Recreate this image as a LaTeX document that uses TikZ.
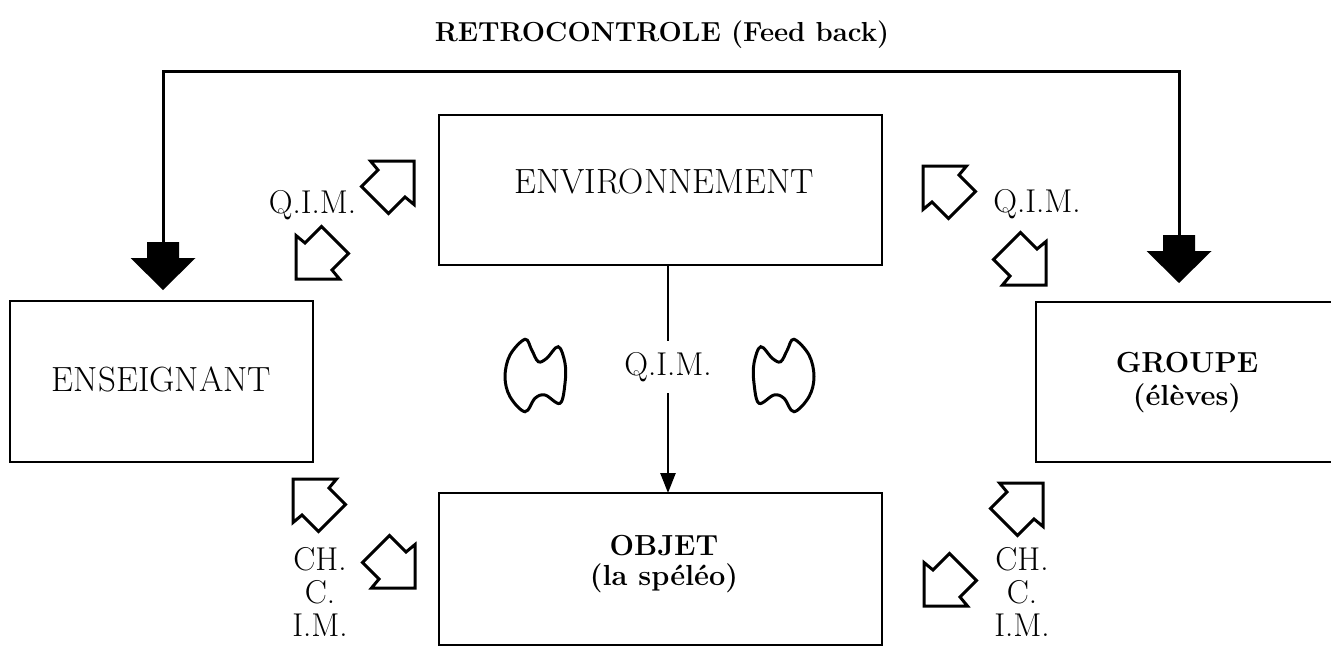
\documentclass[tikz,border=0pt]{standalone}
\usetikzlibrary{arrows.meta}
\begin{document}
\begin{tikzpicture}[x=1pt,y=-1pt,
  frame/.style={draw, line width=2.5pt, inner sep=0pt, outer sep=0pt},
  lbl/.style={font=\fontsize{35}{38}\selectfont, inner sep=0pt, anchor=base},
  blbl/.style={font=\fontsize{29}{33}\selectfont\bfseries, inner sep=0pt, anchor=base},
  qim/.style={font=\fontsize{33}{36}\selectfont, inner sep=0pt, anchor=base},
  flow/.style={line width=2.5pt},
  feed/.style={line width=3pt},
  hollow/.pic={\draw[line width=3pt, line join=miter]
     (0,0) -- (-43.5,0) -- (-36,9) -- (-52.5,25.5) -- (-25.5,52.5) -- (-9,36) -- (0,43.5) -- cycle;},
  bigarrow/.pic={\fill (0,0) -- (32.5,-32) -- (16,-32) -- (16,-48) -- (-16,-48) -- (-16,-32) -- (-32.5,-32) -- cycle;},
  lobe/.pic={\draw[line width=3pt] plot[smooth cycle, tension=0.6] coordinates {
     (-10,-36.7) (-25,-21) (-30,0.7) (-25,20.7) (-10,35.7) (0,22.3) (10,19) (25,27.3)
     (30,7.3) (30,-12.7) (23.3,-29.3) (11.7,-17.7) (3.3,-14.3) (-3.3,-26)};}
]
\useasboundingbox (0,0) rectangle (1331,648);
\clip (0,0) rectangle (1331,648);

% boxes
\node[frame, minimum width=443pt, minimum height=150pt] (env) at (660.5,190) {};
\node[frame, minimum width=303pt, minimum height=161pt] (ens) at (161.5,381.5) {};
\node[frame, minimum width=304pt, minimum height=160pt] (grp) at (1188,382) {};
\node[frame, minimum width=443pt, minimum height=152pt] (obj) at (660.5,569) {};

% box labels
\node[lbl] (envT) at (664,193) {ENVIRONNEMENT};
\node[lbl] (ensT) at (161.5,391) {ENSEIGNANT};
\node[blbl] (grpT1) at (1187,372) {GROUPE};
\node[blbl] (grpT2) at (1187,405) {(élèves)};
\node[blbl] (objT1) at (664,555) {OBJET};
\node[blbl] (objT2) at (664,585) {(la spéléo)};

% title
\node[font=\fontsize{27.5}{30}\selectfont\bfseries, inner sep=0pt, anchor=base] (title) at (662,41) {RETROCONTROLE (Feed back)};

% feedback loop
\coordinate (fbL) at (163,242);
\coordinate (fbR) at (1179,235);
\coordinate (fbLt) at (163,71);
\coordinate (fbRt) at (1179,71);
\draw[feed] (fbL) -- (fbLt) -- (fbRt) -- (fbR);
\pic at (163,290) {bigarrow};
\pic at (1179,283) {bigarrow};

% environment to object
\coordinate (qx) at (668,0);
\draw[flow, -{Triangle[length=20pt,width=15pt]}] (env.south -| qx) -- (obj.north -| qx)
  node[pos=0.447, fill=white, inner xsep=4pt, inner ysep=0pt, minimum height=52pt,
       font=\fontsize{33}{36}\selectfont] (qimM) {Q.I.M.};

% exchange labels
\node[qim] (qimL) at (312.5,213) {Q.I.M.};
\node[qim] (qimR) at (1037,212) {Q.I.M.};
\node[qim] (chL1) at (320,570) {CH.};
\node[qim] (chL2) at (320,603) {C.};
\node[qim] (chL3) at (320,636) {I.M.};
\node[qim] (chR1) at (1022,570) {CH.};
\node[qim] (chR2) at (1022,603) {C.};
\node[qim] (chR3) at (1022,636) {I.M.};

% hollow exchange arrows
\pic at (414,161) {hollow};
\pic[xscale=-1,yscale=-1] at (296,279) {hollow};
\pic[xscale=-1] at (923,166) {hollow};
\pic[yscale=-1] at (1046,285) {hollow};
\pic[xscale=-1] at (293,479) {hollow};
\pic[yscale=-1] at (415,588) {hollow};
\pic at (1043,483) {hollow};
\pic[xscale=-1,yscale=-1] at (924,606) {hollow};

% lobes beside the central flow
\pic at (535,376) {lobe};
\pic[xscale=-1] at (784,376) {lobe};
\end{tikzpicture}
\end{document}
